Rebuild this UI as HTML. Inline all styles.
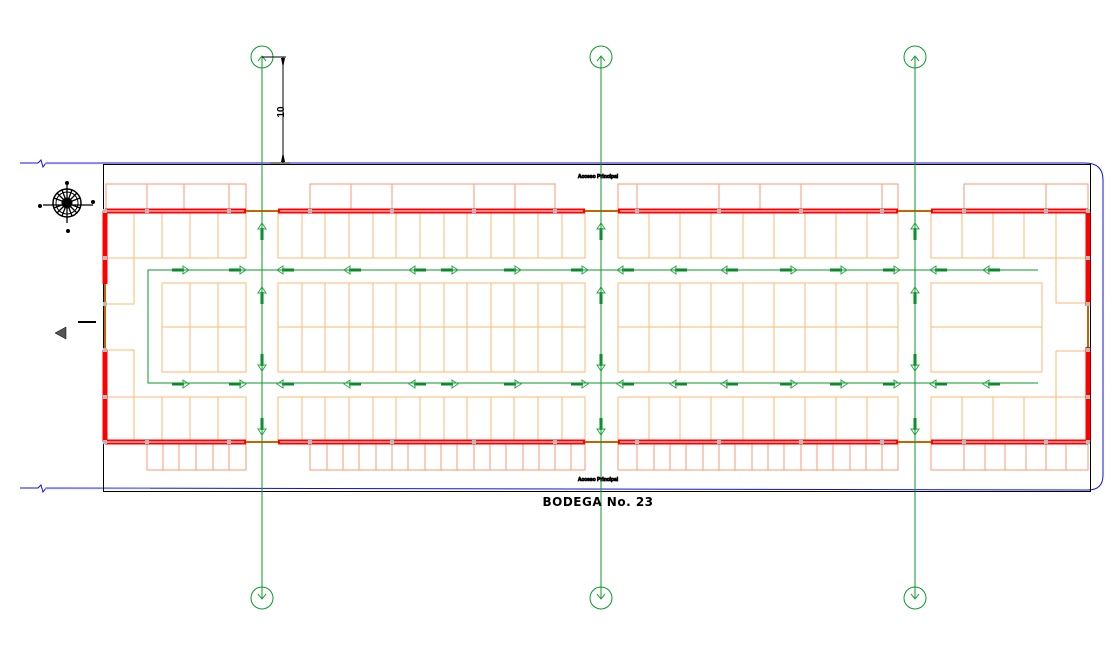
<!DOCTYPE html>
<html><head><meta charset="utf-8"><style>html,body{margin:0;padding:0;background:#fff}svg{display:block}</style></head>
<body>
<svg width="1116" height="662" viewBox="0 0 1116 662" xmlns="http://www.w3.org/2000/svg">
<defs>
<g id="ar"><line x1="-14" y1="0" x2="-2" y2="0" stroke="#0a8a2a" stroke-width="3"/><path d="M-3,-4 L3,0 L-3,4 Z" fill="none" stroke="#2aaa4a" stroke-width="1"/></g>
<g id="au"><line x1="0" y1="14" x2="0" y2="2" stroke="#0a8a2a" stroke-width="3"/><path d="M-4,3 L0,-3 L4,3 Z" fill="none" stroke="#2aaa4a" stroke-width="1"/></g>
</defs>
<!-- blue boundary -->
<g fill="none" stroke="#1010e0" stroke-width="1">
<path d="M20,163 L38,163 L41,160 L43,167 L46,163 L1085,163 Q1103,163 1103,180 L1103,475 Q1103,490 1088,490"/>
<path d="M20,488 L38,488 L41,485 L43,492 L46,488 L1090,490"/>
</g>
<path d="M45,163.5 L100,163.5 M45,488.5 L150,488.5" stroke="#8080ff" stroke-width="1.2"/>
<rect x="103.5" y="164.5" width="987" height="327" fill="none" stroke="#000" stroke-width="1"/>

<!-- salmon outer stalls -->
<g fill="none" stroke="#f79a78" stroke-width="1" shape-rendering="crispEdges">
<path d="M106,211 V184 H246 V211 M147,184 V211 M184,184 V211 M229,184 V211"/>
<path d="M310,211 V184 H555 V211 M351,184 V211 M392,184 V211 M474,184 V211 M515,184 V211"/>
<path d="M618,211 V184 H898 V211 M637,184 V211 M719,184 V211 M760,184 V211 M801,184 V211 M882,184 V211"/>
<path d="M964,211 V184 H1088 V211 M1046,184 V211"/>
<path d="M147,442 V470 H246 V442 M163,442 V470 M179,442 V470 M196,442 V470 M213,442 V470 M229,442 V470"/>
<path d="M310,442 V470 H585 V442 M327,442V470 M343,442V470 M359,442V470 M376,442V470 M392,442V470 M408,442V470 M425,442V470 M441,442V470 M457,442V470 M474,442V470 M490,442V470 M506,442V470 M523,442V470 M539,442V470 M555,442V470 M571,442V470"/>
<path d="M618,442 V470 H898 V442 M637,442V470 M654,442V470 M670,442V470 M686,442V470 M703,442V470 M719,442V470 M735,442V470 M752,442V470 M768,442V470 M784,442V470 M801,442V470 M817,442V470 M833,442V470 M850,442V470 M866,442V470 M882,442V470"/>
<path d="M931,442 V470 H1088 V442 M964,442V470 M985,442V470 M1005,442V470 M1026,442V470 M1046,442V470 M1066,442V470"/>
</g>
<!-- inner stalls -->
<g fill="none" stroke="#ffb870" stroke-width="1" shape-rendering="crispEdges">
<path d="M105,258 H246 V211 M134,211 V304 H105 M162,211V258 M190,211V258 M218,211V258"/>
<path d="M105,350 H134 V442 M105,397 H246 V442 M162,397V442 M190,397V442 M218,397V442"/>
<path d="M162,283 H246 V372 H162 Z M162,327 H246 M190,283V372 M218,283V372"/>
<path d="M278,211 V258 H585 V211 M278,283 H585 V372 H278 Z M278,327 H585 M278,397 H585 V442 M278,397 V442"/>
<path d="M302,211V258 M325,211V258 M349,211V258 M373,211V258 M396,211V258 M420,211V258 M444,211V258 M467,211V258 M491,211V258 M514,211V258 M538,211V258 M562,211V258"/>
<path d="M302,283V372 M325,283V372 M349,283V372 M373,283V372 M396,283V372 M420,283V372 M444,283V372 M467,283V372 M491,283V372 M514,283V372 M538,283V372 M562,283V372"/>
<path d="M302,397V442 M325,397V442 M349,397V442 M373,397V442 M396,397V442 M420,397V442 M444,397V442 M467,397V442 M491,397V442 M514,397V442 M538,397V442 M562,397V442"/>
<path d="M618,211 V258 H898 V211 M618,283 H898 V372 H618 Z M618,327 H898 M618,397 H898 V442 M618,397 V442"/>
<path d="M649,211V258 M680,211V258 M711,211V258 M743,211V258 M774,211V258 M805,211V258 M836,211V258 M867,211V258"/>
<path d="M649,283V372 M680,283V372 M711,283V372 M743,283V372 M774,283V372 M805,283V372 M836,283V372 M867,283V372"/>
<path d="M649,397V442 M680,397V442 M711,397V442 M743,397V442 M774,397V442 M805,397V442 M836,397V442 M867,397V442"/>
<path d="M931,211 V258 H1088 M931,283 H1042 V372 H931 Z M931,327 H1042 M931,397 H1088 M931,397 V442"/>
<path d="M962,211V258 M993,211V258 M1024,211V258 M1056,211V303 H1088 M1056,351 V442 M1056,351 H1088 M962,397V442 M993,397V442 M1024,397V442"/>
</g>
<!-- brown connectors -->
<g stroke="#c86400" stroke-width="2">
<path d="M246,211 H278 M585,211 H618 M898,211 H931 M246,442 H278 M585,442 H618 M898,442 H931"/>
<path d="M105,284 V350 M1088,306 V347"/>
</g>
<!-- red walls -->
<g fill="none" stroke="#ff0000" stroke-width="5">
<path d="M105,211 H246 M278,211 H585 M618,211 H898 M931,211 H1088"/>
<path d="M105,442 H246 M278,442 H585 M618,442 H898 M931,442 H1088"/>
<path d="M105,211 V284 M105,350 V442 M1088,211 V306 M1088,347 V442"/>
</g>
<path d="M107,211 H244 M280,211 H583 M620,211 H896 M933,211 H1086 M107,442 H244 M280,442 H583 M620,442 H896 M933,442 H1086" stroke="#fff" stroke-width="1"/>
<g fill="#bbb">
<rect x="103" y="209" width="4" height="4"/><rect x="145" y="209" width="4" height="4"/><rect x="227" y="209" width="4" height="4"/>
<rect x="308" y="209" width="4" height="4"/><rect x="390" y="209" width="4" height="4"/><rect x="472" y="209" width="4" height="4"/><rect x="553" y="209" width="4" height="4"/>
<rect x="635" y="209" width="4" height="4"/><rect x="717" y="209" width="4" height="4"/><rect x="799" y="209" width="4" height="4"/><rect x="880" y="209" width="4" height="4"/>
<rect x="962" y="209" width="4" height="4"/><rect x="1044" y="209" width="4" height="4"/><rect x="1086" y="209" width="4" height="4"/>
<rect x="145" y="440" width="4" height="4"/><rect x="227" y="440" width="4" height="4"/>
<rect x="308" y="440" width="4" height="4"/><rect x="390" y="440" width="4" height="4"/><rect x="472" y="440" width="4" height="4"/><rect x="553" y="440" width="4" height="4"/>
<rect x="635" y="440" width="4" height="4"/><rect x="717" y="440" width="4" height="4"/><rect x="799" y="440" width="4" height="4"/><rect x="880" y="440" width="4" height="4"/>
<rect x="962" y="440" width="4" height="4"/><rect x="1044" y="440" width="4" height="4"/><rect x="103" y="440" width="4" height="4"/><rect x="1086" y="440" width="4" height="4"/>
<rect x="103" y="256" width="4" height="4"/><rect x="103" y="302" width="4" height="4"/><rect x="103" y="348" width="4" height="4"/><rect x="103" y="395" width="4" height="4"/>
<rect x="1086" y="256" width="4" height="4"/><rect x="1086" y="302" width="4" height="4"/><rect x="1086" y="348" width="4" height="4"/><rect x="1086" y="395" width="4" height="4"/>
</g>

<!-- green circulation -->
<path d="M1038,270 H148 V383 H1038" fill="none" stroke="#0a9a2a" stroke-width="1" shape-rendering="crispEdges"/>
<g>
<use href="#ar" transform="translate(186,270)"/><use href="#ar" transform="translate(243,270)"/><use href="#ar" transform="translate(280,270) scale(-1,1)"/><use href="#ar" transform="translate(347,270) scale(-1,1)"/><use href="#ar" transform="translate(412,270) scale(-1,1)"/><use href="#ar" transform="translate(455,270)"/><use href="#ar" transform="translate(518,270)"/><use href="#ar" transform="translate(585,270)"/><use href="#ar" transform="translate(620,270) scale(-1,1)"/><use href="#ar" transform="translate(673,270) scale(-1,1)"/><use href="#ar" transform="translate(724,270) scale(-1,1)"/><use href="#ar" transform="translate(794,270)"/><use href="#ar" transform="translate(844,270)"/><use href="#ar" transform="translate(897,270)"/><use href="#ar" transform="translate(933,270) scale(-1,1)"/><use href="#ar" transform="translate(986,270) scale(-1,1)"/>
<use href="#ar" transform="translate(186,384)"/><use href="#ar" transform="translate(243,384)"/><use href="#ar" transform="translate(280,384) scale(-1,1)"/><use href="#ar" transform="translate(347,384) scale(-1,1)"/><use href="#ar" transform="translate(412,384) scale(-1,1)"/><use href="#ar" transform="translate(455,384)"/><use href="#ar" transform="translate(518,384)"/><use href="#ar" transform="translate(585,384)"/><use href="#ar" transform="translate(620,384) scale(-1,1)"/><use href="#ar" transform="translate(673,384) scale(-1,1)"/><use href="#ar" transform="translate(724,384) scale(-1,1)"/><use href="#ar" transform="translate(794,384)"/><use href="#ar" transform="translate(844,384)"/><use href="#ar" transform="translate(897,384)"/><use href="#ar" transform="translate(933,384) scale(-1,1)"/><use href="#ar" transform="translate(986,384) scale(-1,1)"/>
<use href="#au" transform="translate(262,226)"/><use href="#au" transform="translate(262,290)"/><use href="#au" transform="translate(262,368) scale(1,-1)"/><use href="#au" transform="translate(262,432) scale(1,-1)"/>
<use href="#au" transform="translate(601,226)"/><use href="#au" transform="translate(601,290)"/><use href="#au" transform="translate(601,368) scale(1,-1)"/><use href="#au" transform="translate(601,432) scale(1,-1)"/>
<use href="#au" transform="translate(915,226)"/><use href="#au" transform="translate(915,290)"/><use href="#au" transform="translate(915,368) scale(1,-1)"/><use href="#au" transform="translate(915,432) scale(1,-1)"/>
</g>
<!-- grid axes -->
<g fill="none" stroke="#0a9a2a" stroke-width="1">
<path d="M262,57 V598 M601,57 V598 M915,57 V598" shape-rendering="crispEdges"/>
<circle cx="262" cy="57" r="11"/><circle cx="601" cy="57" r="11"/><circle cx="915" cy="57" r="11"/>
<circle cx="262" cy="598" r="11"/><circle cx="601" cy="598" r="11"/><circle cx="915" cy="598" r="11"/>
<path d="M258,61 L262,56 L266,61 M597,61 L601,56 L605,61 M911,61 L915,56 L919,61 M258,594 L262,599 L266,594 M597,594 L601,599 L605,594 M911,594 L915,599 L919,594"/>
</g>
<!-- dimension -->
<path d="M262,57 H286 M283,57 V163 M270,163 H290" stroke="#000" stroke-width="1"/>
<path d="M281,58 L283,68 L285,58 Z M281,162 L283,152 L285,162 Z" fill="#000"/>
<text x="284" y="112" transform="rotate(-90 284 112)" font-family="Liberation Sans, sans-serif" font-size="10" font-weight="bold" text-anchor="middle">10</text>
<!-- tags -->
<text x="598" y="178" font-family="Liberation Sans, sans-serif" font-size="5" text-anchor="middle" font-weight="bold" stroke="#000" stroke-width="0.8">Acceso Principal</text>
<text x="598" y="481" font-family="Liberation Sans, sans-serif" font-size="5" text-anchor="middle" font-weight="bold" stroke="#000" stroke-width="0.8">Acceso Principal</text>
<rect x="78" y="321" width="18" height="2" fill="#000"/>
<path d="M55,333 L66,327 L66,339 Z" fill="#555" stroke="#000" stroke-width="0.5"/>
<!-- compass -->
<g transform="translate(67,203)" stroke="#000" fill="none">
<circle r="14" stroke-width="1.5"/><circle r="11" stroke-width="1"/>
<path d="M0,-19 V20 M-24,2 H26 M-10,-10 L10,10 M10,-10 L-10,10 M-5,-13 L5,13 M5,-13 L-5,13 M-13,-5 L13,5 M13,-5 L-13,5" stroke-width="1.3"/>
<circle r="5" fill="#000"/>
<circle cx="0" cy="-20" r="1.5" fill="#000"/><circle cx="26" cy="-1" r="1.5" fill="#000"/><circle cx="-27" cy="3" r="1.5" fill="#000"/><circle cx="1" cy="28" r="1.5" fill="#000"/>
</g>
<text x="598" y="506" font-family="DejaVu Sans, sans-serif" font-size="12" font-weight="bold" text-anchor="middle" letter-spacing="0.5">BODEGA No. 23</text>
</svg>
</body></html>
